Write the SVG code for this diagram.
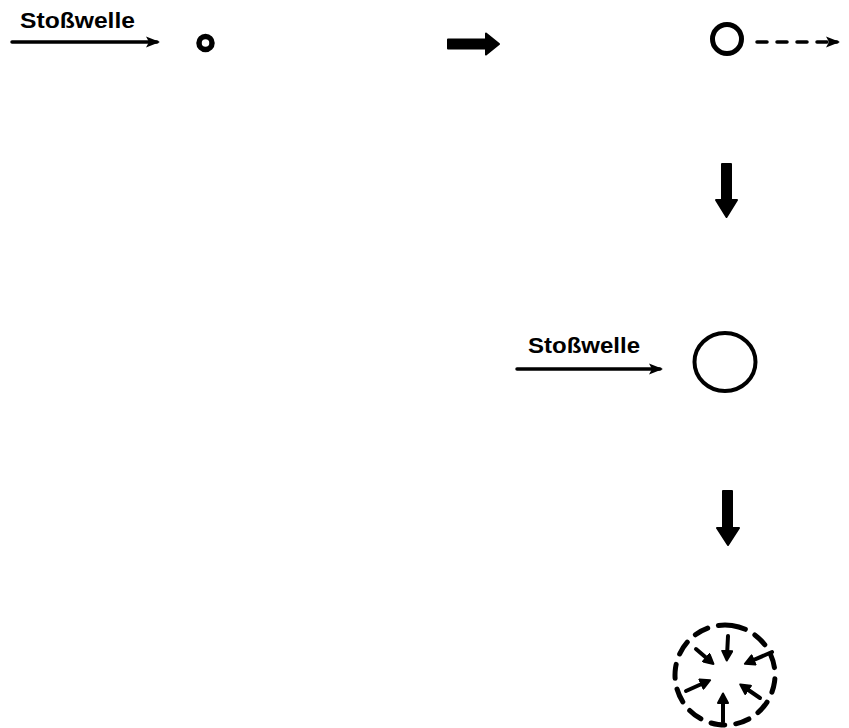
<svg xmlns="http://www.w3.org/2000/svg" width="849" height="728" viewBox="0 0 849 728">
  <defs>
    <style>
      .label { font-family: "Liberation Sans", Arial, sans-serif; font-weight: bold; font-size: 21.5px; fill: #000; }
      .thin { stroke: #000; stroke-width: 3.5; fill: none; stroke-linecap: round; }
      .ring { stroke: #000; fill: none; }
      .big { fill: #000; stroke: #000; stroke-width: 2; stroke-linejoin: round; }
      .inward { stroke: #000; stroke-width: 4; fill: none; stroke-linecap: round; }
    </style>
    <marker id="head" viewBox="0 0 14 12" refX="11" refY="6" markerWidth="14" markerHeight="12" markerUnits="userSpaceOnUse" orient="auto">
      <path d="M0,0.5 L14,6 L0,11.5 L3,6 Z" fill="#000"/>
    </marker>
    <marker id="blob" viewBox="0 0 12 12" refX="6" refY="6" markerWidth="12" markerHeight="12" markerUnits="userSpaceOnUse" orient="auto">
      <path d="M1,1 L10.5,6 L1,11 Z" fill="#000" stroke="#000" stroke-width="2" stroke-linejoin="round"/>
    </marker>
  </defs>

  <!-- stage 1: shock wave meets a small bubble -->
  <g id="shock1">
    <text class="label" x="20" y="28" textLength="115" lengthAdjust="spacingAndGlyphs">Stoßwelle</text>
  </g>
  <g id="bubble-small">
    <circle class="ring" cx="205.5" cy="43" r="6.5" stroke-width="5.5"/>
  </g>

  <!-- stage 2: grown bubble drifting -->
  <g id="bubble-grown">
    <circle class="ring" cx="727" cy="39" r="14.5" stroke-width="5"/>
  </g>

  <!-- stage 3: second shock wave on the large bubble -->
  <g id="shock2">
    <text class="label" x="528" y="353" textLength="112" lengthAdjust="spacingAndGlyphs">Stoßwelle</text>
  </g>
  <g id="bubble-large">
    <ellipse class="ring" cx="725" cy="362" rx="30.5" ry="29" stroke-width="4"/>
  </g>

  <!-- stage 4: collapsing bubble -->
  <g id="bubble-collapse">
    <circle class="ring" cx="725" cy="675" r="50" stroke-width="5" stroke-dasharray="14 11" stroke-linecap="round" transform="rotate(-82 725 675)"/>
    <line class="inward" x1="728" y1="636" x2="727" y2="656" marker-end="url(#blob)"/>
    <line class="inward" x1="696" y1="649" x2="710" y2="661" marker-end="url(#blob)"/>
    <line class="inward" x1="772" y1="652" x2="749" y2="662" marker-end="url(#blob)"/>
    <line class="inward" x1="686" y1="691" x2="706" y2="682" marker-end="url(#blob)"/>
    <line class="inward" x1="760" y1="698" x2="744" y2="687" marker-end="url(#blob)"/>
    <line class="inward" x1="723" y1="722" x2="723" y2="698" marker-end="url(#blob)"/>
  </g>

  <!-- connectors -->
  <g id="connectors">
    <line class="thin" x1="12" y1="42" x2="157" y2="42" marker-end="url(#head)"/>
    <line class="thin" x1="517" y1="369" x2="660" y2="369" marker-end="url(#head)"/>
    <line class="thin" x1="757" y1="42" x2="831" y2="42" stroke-width="4" stroke-dasharray="10 10" stroke-linecap="butt"/>
    <line class="thin" x1="832" y1="42" x2="837" y2="42" stroke-width="4" marker-end="url(#head)"/>
    <!-- block arrows between stages -->
    <path class="big" d="M448,39.5 L486,39.5 L486,33.5 L499,44 L486,54.5 L486,48.5 L448,48.5 Z"/>
    <path class="big" d="M722,164 L731,164 L731,200 L737,200 L726.5,217 L716,200 L722,200 Z"/>
    <path class="big" d="M723,491 L732,491 L732,528 L739,528 L728,545 L717,528 L723,528 Z"/>
  </g>
</svg>
